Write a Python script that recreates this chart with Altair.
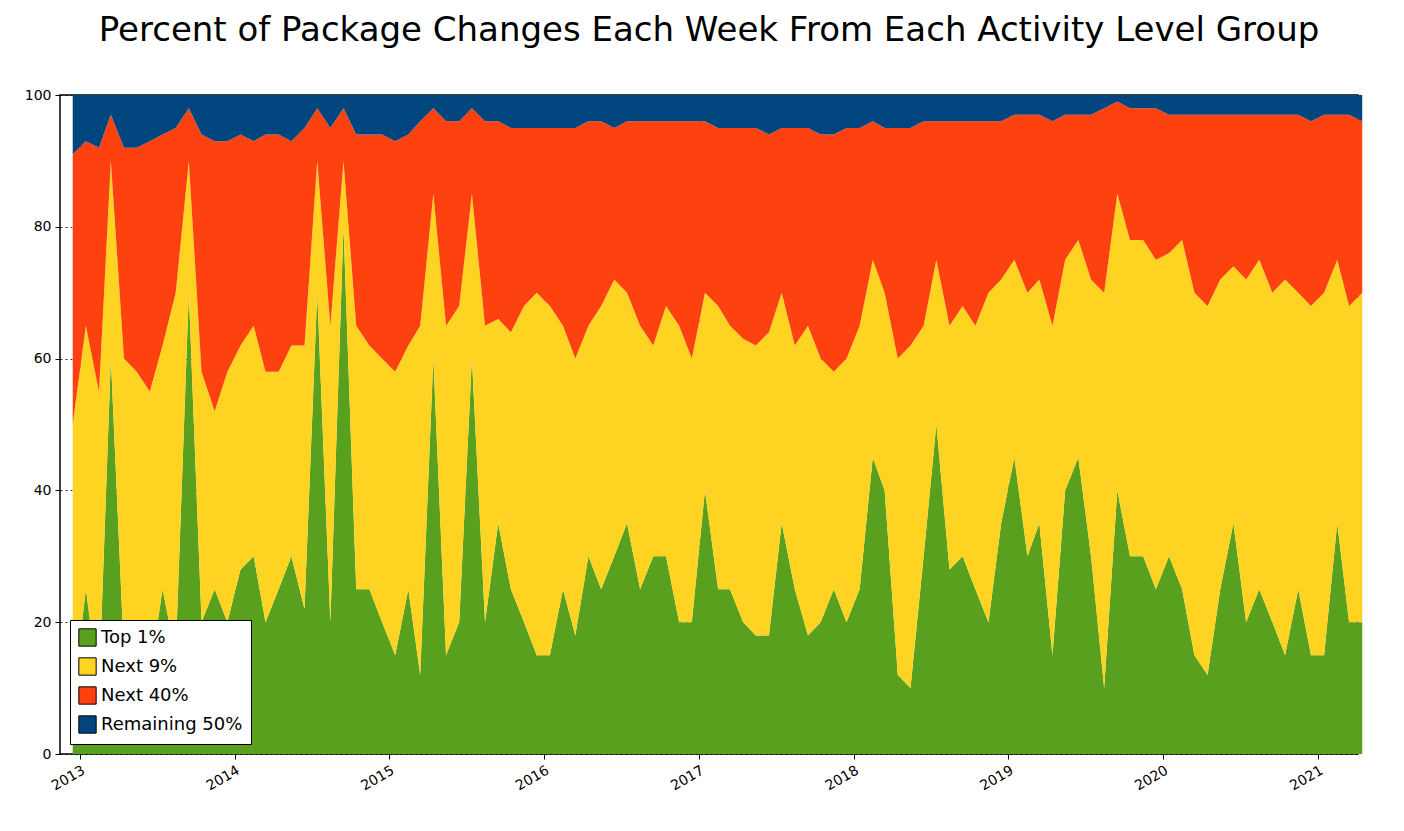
import altair as alt
import pandas as pd

# monthly readings, Nov 2012 .. Mar 2021 (cumulative boundaries in percent)
months = pd.date_range("2012-11-15", periods=101, freq="MS") + pd.Timedelta(days=14)

top1 = [8, 25,
        10, 60, 15, 20, 12, 25, 15, 70, 20, 25, 20, 28,
        30, 20, 25, 30, 22, 70, 20, 80, 25, 25, 20, 15,
        25, 12, 60, 15, 20, 60, 20, 35, 25, 20, 15, 15,
        25, 18, 30, 25, 30, 35, 25, 30, 30, 20, 20, 40,
        25, 25, 20, 18, 18, 35, 25, 18, 20, 25, 20, 25,
        45, 40, 12, 10, 30, 50, 28, 30, 25, 20, 35, 45,
        30, 35, 15, 40, 45, 30, 10, 40, 30, 30, 25, 30,
        25, 15, 12, 25, 35, 20, 25, 20, 15, 25, 15, 15,
        35, 20, 20]
top10 = [50, 65,
         55, 90, 60, 58, 55, 62, 70, 90, 58, 52, 58, 62,
         65, 58, 58, 62, 62, 90, 65, 90, 65, 62, 60, 58,
         62, 65, 85, 65, 68, 85, 65, 66, 64, 68, 70, 68,
         65, 60, 65, 68, 72, 70, 65, 62, 68, 65, 60, 70,
         68, 65, 63, 62, 64, 70, 62, 65, 60, 58, 60, 65,
         75, 70, 60, 62, 65, 75, 65, 68, 65, 70, 72, 75,
         70, 72, 65, 75, 78, 72, 70, 85, 78, 78, 75, 76,
         78, 70, 68, 72, 74, 72, 75, 70, 72, 70, 68, 70,
         75, 68, 70]
top50 = [91, 93,
         92, 97, 92, 92, 93, 94, 95, 98, 94, 93, 93, 94,
         93, 94, 94, 93, 95, 98, 95, 98, 94, 94, 94, 93,
         94, 96, 98, 96, 96, 98, 96, 96, 95, 95, 95, 95,
         95, 95, 96, 96, 95, 96, 96, 96, 96, 96, 96, 96,
         95, 95, 95, 95, 94, 95, 95, 95, 94, 94, 95, 95,
         96, 95, 95, 95, 96, 96, 96, 96, 96, 96, 96, 97,
         97, 97, 96, 97, 97, 97, 98, 99, 98, 98, 98, 97,
         97, 97, 97, 97, 97, 97, 97, 97, 97, 97, 96, 97,
         97, 97, 96]

groups = ["Top 1%", "Next 9%", "Next 40%", "Remaining 50%"]
colors = ["#58a01d", "#fed322", "#fe420f", "#00457d"]

rows = []
for d, a, b, c in zip(months, top1, top10, top50):
    shares = [a, b - a, c - b, 100 - c]
    for i, (g, s) in enumerate(zip(groups, shares)):
        rows.append({"date": d, "group": g, "share": s, "order": i})
df = pd.DataFrame(rows)

chart = alt.Chart(df).mark_area(interpolate="linear").encode(
    x=alt.X("date:T", title=None,
            scale=alt.Scale(domain=["2012-11-15", "2021-04-05"], nice=False),
            axis=alt.Axis(format="%Y", tickCount="year", labelAngle=-30,
                          labelAlign="right", labelFontSize=14, tickSize=5,
                          gridDash=[2, 3], gridColor="black", gridOpacity=0.8)),
    y=alt.Y("share:Q", stack="zero", title=None,
            scale=alt.Scale(domain=[0, 100], nice=False),
            axis=alt.Axis(values=[0, 20, 40, 60, 80, 100], labelFontSize=14,
                          tickSize=5, gridDash=[2, 3], gridColor="black",
                          gridOpacity=0.8)),
    color=alt.Color("group:N", sort=groups,
                    scale=alt.Scale(domain=groups, range=colors),
                    legend=alt.Legend(title=None, orient="bottom-left",
                                      labelFontSize=18, symbolType="square",
                                      symbolSize=300, symbolStrokeColor="black",
                                      symbolStrokeWidth=1, fillColor="white",
                                      strokeColor="black", padding=8,
                                      offset=10, rowPadding=6)),
    order=alt.Order("order:Q", sort="ascending"),
).properties(
    width=1298,
    height=659,
    title=alt.TitleParams("Percent of Package Changes Each Week From Each Activity Level Group",
                          fontSize=34, fontWeight="normal", anchor="middle", offset=40),
    autosize=alt.AutoSizeParams(type="none"),
    padding={"left": 52, "top": 87, "right": 30, "bottom": 60},
).configure(
    font="DejaVu Sans",
).configure_view(
    stroke="black", strokeWidth=1.5,
).configure_axis(
    domain=False, tickColor="black", labelColor="black", labelPadding=4,
)

chart.save("out.html", embed_options={"renderer": "svg", "actions": False})
